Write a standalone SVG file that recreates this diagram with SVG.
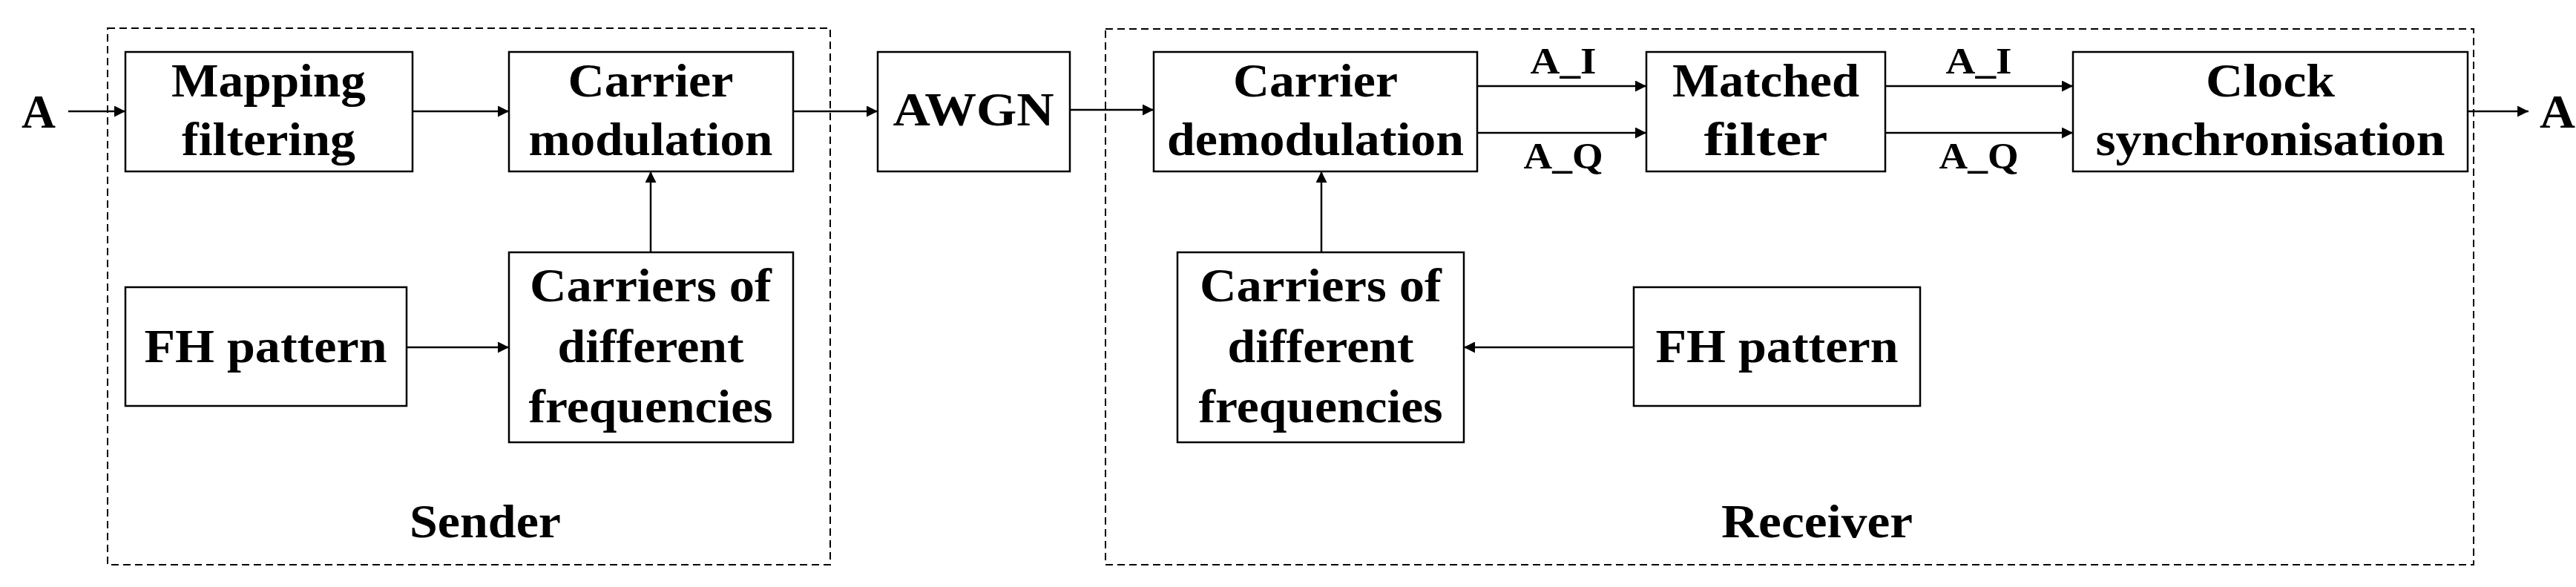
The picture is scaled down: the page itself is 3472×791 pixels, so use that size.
<svg xmlns="http://www.w3.org/2000/svg" width="3472" height="791" viewBox="0 0 3472 791">
<style>
.b{fill:#fff;stroke:#000;stroke-width:2.5}
.d{fill:none;stroke:#000;stroke-width:2;stroke-dasharray:10,6}
.c line{stroke:#000;stroke-width:2.5;marker-end:url(#ah)}
text{font-family:"Liberation Serif","Times New Roman",serif;font-weight:bold;font-size:63px;text-anchor:middle;fill:#000}
.s{font-size:50px}
</style>
<defs><marker id="ah" viewBox="0 0 10 10" refX="10" refY="5" markerWidth="7" markerHeight="6" markerUnits="strokeWidth" orient="auto"><path d="M0,0L10,5L0,10z" fill="#000"/></marker></defs>
<g id="sender"><rect class="d" x="145" y="38" width="974" height="723"/><text x="654" y="724" textLength="204" lengthAdjust="spacingAndGlyphs">Sender</text></g>
<g id="receiver"><rect class="d" x="1490" y="39" width="1844" height="722"/><text x="2449" y="724" textLength="258" lengthAdjust="spacingAndGlyphs">Receiver</text></g>
<g id="inA"><text x="52" y="172" textLength="46" lengthAdjust="spacingAndGlyphs">A</text></g>
<g id="outA"><text x="3447" y="172" textLength="48" lengthAdjust="spacingAndGlyphs">A</text></g>
<g id="mapping"><rect class="b" x="169" y="70" width="387" height="161"/><text x="362" y="130" textLength="262" lengthAdjust="spacingAndGlyphs">Mapping</text><text x="362" y="209" textLength="234" lengthAdjust="spacingAndGlyphs">filtering</text></g>
<g id="carriermod"><rect class="b" x="686" y="70" width="383" height="161"/><text x="877" y="130" textLength="223" lengthAdjust="spacingAndGlyphs">Carrier</text><text x="877" y="209" textLength="329" lengthAdjust="spacingAndGlyphs">modulation</text></g>
<g id="fhtx"><rect class="b" x="169" y="387" width="379" height="160"/><text x="358" y="488" textLength="327" lengthAdjust="spacingAndGlyphs">FH pattern</text></g>
<g id="carrierstx"><rect class="b" x="686" y="340" width="383" height="256"/><text x="877" y="406" textLength="326" lengthAdjust="spacingAndGlyphs">Carriers of</text><text x="877" y="488" textLength="251" lengthAdjust="spacingAndGlyphs">different</text><text x="877" y="569" textLength="329" lengthAdjust="spacingAndGlyphs">frequencies</text></g>
<g id="awgn"><rect class="b" x="1183" y="70" width="259" height="161"/><text x="1312" y="169" textLength="217" lengthAdjust="spacingAndGlyphs">AWGN</text></g>
<g id="demod"><rect class="b" x="1555" y="70" width="436" height="161"/><text x="1773" y="130" textLength="222" lengthAdjust="spacingAndGlyphs">Carrier</text><text x="1773" y="209" textLength="400" lengthAdjust="spacingAndGlyphs">demodulation</text></g>
<g id="matched"><rect class="b" x="2219" y="70" width="322" height="161"/><text x="2380" y="130" textLength="252" lengthAdjust="spacingAndGlyphs">Matched</text><text x="2380" y="209" textLength="167" lengthAdjust="spacingAndGlyphs">filter</text></g>
<g id="clock"><rect class="b" x="2794" y="70" width="532" height="161"/><text x="3060" y="130" textLength="174" lengthAdjust="spacingAndGlyphs">Clock</text><text x="3060" y="209" textLength="471" lengthAdjust="spacingAndGlyphs">synchronisation</text></g>
<g id="carriersrx"><rect class="b" x="1587" y="340" width="386" height="256"/><text x="1780" y="406" textLength="326" lengthAdjust="spacingAndGlyphs">Carriers of</text><text x="1780" y="488" textLength="251" lengthAdjust="spacingAndGlyphs">different</text><text x="1780" y="569" textLength="329" lengthAdjust="spacingAndGlyphs">frequencies</text></g>
<g id="fhrx"><rect class="b" x="2202" y="387" width="386" height="160"/><text x="2395" y="488" textLength="327" lengthAdjust="spacingAndGlyphs">FH pattern</text></g>
<g id="connectors" class="c">
<line x1="92" y1="150" x2="169" y2="150"/>
<line x1="556" y1="150" x2="686" y2="150"/>
<line x1="1069" y1="150" x2="1183" y2="150"/>
<line x1="877" y1="340" x2="877" y2="231"/>
<line x1="548" y1="468" x2="686" y2="468"/>
<line x1="1442" y1="148" x2="1555" y2="148"/>
<line x1="1991" y1="116" x2="2219" y2="116"/>
<line x1="1991" y1="179" x2="2219" y2="179"/>
<line x1="2541" y1="116" x2="2794" y2="116"/>
<line x1="2541" y1="179" x2="2794" y2="179"/>
<line x1="1781" y1="340" x2="1781" y2="231"/>
<line x1="2202" y1="468" x2="1973" y2="468"/>
<line x1="3326" y1="150" x2="3408" y2="150"/>
</g>
<g id="labels">
<text class="s" x="2107" y="99" textLength="89" lengthAdjust="spacingAndGlyphs">A_I</text>
<text class="s" x="2107" y="227" textLength="107" lengthAdjust="spacingAndGlyphs">A_Q</text>
<text class="s" x="2667" y="99" textLength="89" lengthAdjust="spacingAndGlyphs">A_I</text>
<text class="s" x="2667" y="227" textLength="107" lengthAdjust="spacingAndGlyphs">A_Q</text>
</g>
</svg>
